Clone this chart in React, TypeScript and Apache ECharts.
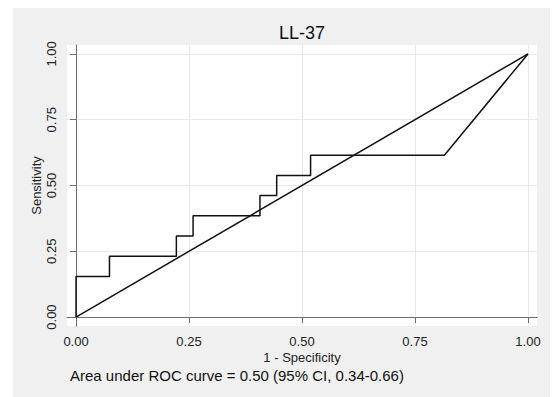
import React, { useEffect, useRef } from "react";
import * as echarts from "echarts";

const FONT = "'Liberation Sans', Arial, Helvetica, sans-serif";

const chartTitle = "LL-37";
const xAxisTitle = "1 - Specificity";
const yAxisTitle = "Sensitivity";
const aucNote = "Area under ROC curve = 0.50 (95% CI, 0.34-0.66)";

const tickValues = [0, 0.25, 0.5, 0.75, 1];

// ROC step curve (1 - specificity, sensitivity)
const rocFpr = [0, 0, 0.074, 0.074, 0.222, 0.222, 0.259, 0.259, 0.407, 0.407, 0.444, 0.444, 0.519, 0.519, 0.815, 1];
const rocTpr = [0, 0.154, 0.154, 0.231, 0.231, 0.308, 0.308, 0.385, 0.385, 0.462, 0.462, 0.538, 0.538, 0.615, 0.615, 1];

// chance reference line
const refX = [0, 1];
const refY = [0, 1];

export default function App() {
  const ref = useRef<HTMLDivElement>(null);

  useEffect(() => {
    if (!ref.current) return;
    const chart = echarts.init(ref.current, null, { renderer: "svg" });

    const gridColor = "#e9e9e9";
    const axisColor = "#6e6e6e";
    const textColor = "#222";

    const option: any = {
      animation: false,
      backgroundColor: "#ffffff",
      textStyle: { fontFamily: FONT },
      graphic: [
        {
          type: "rect",
          z: -10,
          silent: true,
          shape: { x: 13, y: 8, width: 537, height: 389 },
          style: { fill: "#f0f0f0" },
        },
        {
          type: "text",
          x: 302,
          y: 33,
          style: {
            text: chartTitle,
            fontSize: 18,
            fontFamily: FONT,
            fill: "#111",
            textAlign: "center",
            textVerticalAlign: "middle",
          },
        },
        {
          type: "text",
          x: 70,
          y: 375,
          style: {
            text: aucNote,
            fontSize: 15,
            fontFamily: FONT,
            fill: "#111",
            textAlign: "left",
            textVerticalAlign: "middle",
          },
        },
      ],
      grid: {
        left: 67,
        top: 45,
        width: 470,
        height: 281,
        show: true,
        backgroundColor: "#ffffff",
        borderWidth: 0,
        containLabel: false,
      },
      xAxis: {
        type: "value",
        min: -0.02,
        max: 1.02,
        name: xAxisTitle,
        nameLocation: "middle",
        nameGap: 25,
        nameMoveOverlap: false,
        nameTextStyle: { fontSize: 13, color: textColor, fontFamily: FONT },
        axisLine: { show: true, lineStyle: { color: axisColor, width: 1 } },
        axisTick: { show: true, length: 6, customValues: tickValues, lineStyle: { color: axisColor } },
        axisLabel: {
          customValues: tickValues,
          formatter: (v: number) => v.toFixed(2),
          fontSize: 13,
          color: textColor,
          margin: 9,
          fontFamily: FONT,
        },
        splitLine: { show: false },
      },
      yAxis: {
        type: "value",
        min: -0.034,
        max: 1.034,
        name: yAxisTitle,
        nameLocation: "middle",
        nameGap: 24,
        nameMoveOverlap: false,
        nameTextStyle: { fontSize: 13, color: textColor, fontFamily: FONT },
        axisLine: { show: true, lineStyle: { color: axisColor, width: 1 } },
        axisTick: { show: true, length: 6, customValues: tickValues, lineStyle: { color: axisColor } },
        axisLabel: {
          customValues: tickValues,
          formatter: (v: number) => v.toFixed(2),
          fontSize: 13,
          color: textColor,
          margin: 9,
          rotate: 90,
          fontFamily: FONT,
        },
        splitLine: { show: false },
      },
      series: [
        {
          type: "line",
          name: "grid",
          data: [],
          z: 0,
          silent: true,
          markLine: {
            z: 0,
            silent: true,
            symbol: ["none", "none"],
            label: { show: false },
            emphasis: { disabled: true },
            lineStyle: { color: gridColor, width: 1, type: "solid" },
            data: [
              ...tickValues.map((v) => ({ xAxis: v })),
              ...tickValues.map((v) => ({ yAxis: v })),
            ],
          },
        },
        {
          type: "line",
          name: "reference",
          z: 10,
          showSymbol: false,
          symbol: "none",
          lineStyle: { color: "#111", width: 1.5 },
          data: refX.map((x, i) => [x, refY[i]]),
        },
        {
          type: "line",
          name: "ROC",
          z: 11,
          showSymbol: false,
          symbol: "none",
          lineStyle: { color: "#111", width: 1.5 },
          data: rocFpr.map((x, i) => [x, rocTpr[i]]),
        },
      ],
    };

    chart.setOption(option);
    return () => chart.dispose();
  }, []);

  return (
    <div
      ref={ref}
      style={{ position: "absolute", left: 0, top: 0, width: 554, height: 397 }}
    />
  );
}
